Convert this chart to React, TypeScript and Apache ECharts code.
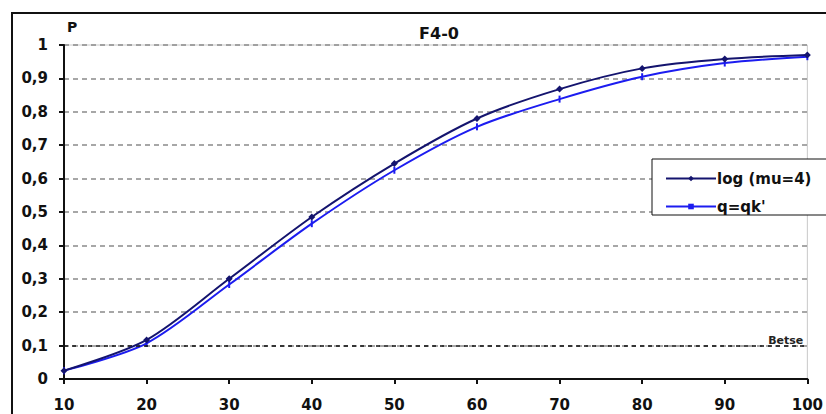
import React, { useEffect, useRef } from "react";
import * as echarts from "echarts";

const categories = [10, 20, 30, 40, 50, 60, 70, 80, 90, 100];
const logMu4 = [0.025, 0.117, 0.3, 0.485, 0.645, 0.78, 0.868, 0.93, 0.958, 0.97];
const qqk = [0.025, 0.107, 0.283, 0.465, 0.625, 0.755, 0.838, 0.905, 0.946, 0.965];
const yTicks = [0, 0.1, 0.2, 0.3, 0.4, 0.5, 0.6, 0.7, 0.8, 0.9, 1];
const threshold = 0.1;
const thresholdLabel = "Betse";
const titleText = "F4-0";
const yName = "P";
const seriesNames = ["log (mu=4)", "q=qk'"];

const FONT = "'DejaVu Sans', Verdana, sans-serif";

export default function App() {
  const ref = useRef<HTMLDivElement>(null);
  useEffect(() => {
    if (!ref.current) return;
    const chart = echarts.init(ref.current, null, { renderer: "svg" });
    const fmt = (v: number) => (v === 0 ? "0" : v === 1 ? "1" : v.toFixed(1).replace(".", ","));
    chart.setOption({
      animation: false,
      backgroundColor: "#ffffff",
      textStyle: { fontFamily: FONT },
      title: {
        text: titleText,
        left: 434,
        top: 20,
        textAlign: "center",
        textStyle: { fontFamily: FONT, fontSize: 16, fontWeight: "bold", color: "#111" },
      },
      graphic: [
        {
          type: "rect",
          shape: { x: 12, y: 13, width: 900, height: 500 },
          style: { fill: "none", stroke: "#111", lineWidth: 2 },
          silent: true,
          z: 100,
        },
        {
          type: "text",
          x: 67,
          y: 20,
          style: { text: yName, font: `bold 14px ${FONT}`, fill: "#111" },
        },
        {
          type: "rect",
          shape: { x: 652, y: 159, width: 200, height: 56 },
          style: { fill: "#fff", stroke: "#111", lineWidth: 1 },
          z: 50,
        },
      ],
      legend: {
        left: 660,
        top: 166,
        orient: "vertical",
        itemGap: 13,
        itemWidth: 50,
        itemHeight: 7,
        z: 60,
        textStyle: { fontFamily: FONT, fontSize: 15, fontWeight: "bold", color: "#111", padding: [0, 0, 0, -4] },
        data: seriesNames,
      },
      grid: { left: 64, right: 13, top: 45, bottom: 35, show: true, borderColor: "#c8c8c8", borderWidth: 1 },
      xAxis: {
        type: "value",
        min: 10,
        max: 100,
        interval: 10,
        axisLine: { lineStyle: { color: "#111", width: 2 } },
        axisTick: { show: true, length: 5, lineStyle: { color: "#111", width: 2 } },
        axisLabel: { fontFamily: FONT, fontSize: 15, fontWeight: "bold", color: "#111", margin: 18 },
        splitLine: { show: false },
      },
      yAxis: {
        type: "value",
        min: 0,
        max: 1,
        interval: 0.1,
        axisLine: { show: true, lineStyle: { color: "#111", width: 2 } },
        axisTick: { show: true, length: 5, lineStyle: { color: "#111", width: 2 } },
        axisLabel: {
          fontFamily: FONT,
          fontSize: 15,
          fontWeight: "bold",
          color: "#111",
          margin: 16,
          formatter: (v: number) => (yTicks.some((t) => Math.abs(t - v) < 1e-6) ? fmt(v) : ""),
        },
        splitLine: {
          show: true,
          lineStyle: { color: "#8a8a8a", type: [5, 4], width: 1.5 },
        },
      },
      series: [
        {
          name: seriesNames[0],
          type: "line",
          data: categories.map((c, i) => [c, logMu4[i]]),
          smooth: 0.3,
          symbol: "diamond",
          symbolSize: 7,
          showSymbol: true,
          lineStyle: { color: "#14146e", width: 2 },
          itemStyle: { color: "#14146e" },
          z: 5,
          markLine: {
            silent: true,
            symbol: "none",
            data: [{ yAxis: threshold }],
            lineStyle: { color: "#111", type: [4, 4], width: 1.5 },
            label: {
              show: true,
              position: "insideEndTop",
              formatter: thresholdLabel,
              fontFamily: FONT,
              fontSize: 11,
              fontWeight: "bold",
              color: "#222",
              distance: [4, 0],
            },
          },
        },
        {
          name: seriesNames[1],
          type: "line",
          data: categories.map((c, i) => [c, qqk[i]]),
          smooth: 0.3,
          symbol: "rect",
          symbolSize: [2, 7],
          showSymbol: true,
          lineStyle: { color: "#1c1cf0", width: 2 },
          itemStyle: { color: "#1c1cf0" },
          z: 4,
        },
      ],
    });
    return () => chart.dispose();
  }, []);
  return <div ref={ref} style={{ width: 826, height: 414, position: "absolute", left: 0, top: 0 }} />;
}
